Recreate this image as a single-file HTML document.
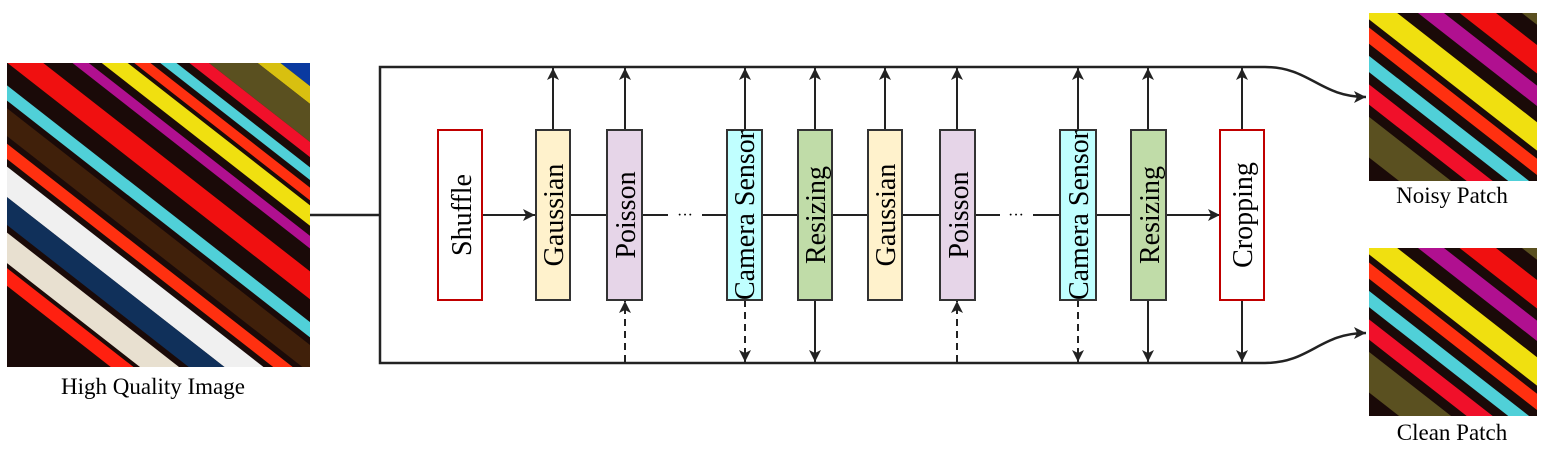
<!DOCTYPE html>
<html><head><meta charset="utf-8"><style>
html,body{margin:0;padding:0;background:#fff;width:1543px;height:450px;overflow:hidden;}
svg{display:block;}
text{font-family:"Liberation Serif",serif;fill:#000;}
</style></head><body>
<svg width="1543" height="450" viewBox="0 0 1543 450" xmlns="http://www.w3.org/2000/svg">
<defs>
<marker id="ah" markerWidth="12" markerHeight="12" refX="12" refY="6" orient="auto" markerUnits="userSpaceOnUse"><path d="M0,0 L12,6 L0,12 L3,6 z" fill="#222"/></marker>
<clipPath id="c1"><rect x="7" y="63" width="303" height="304"/></clipPath>
<clipPath id="c2"><rect x="1369" y="13" width="168" height="168"/></clipPath>
<clipPath id="c3"><rect x="1369" y="248" width="168" height="168"/></clipPath>
<g id="stripes">
<rect x="-400" y="-400" width="1000" height="1000" fill="#1a0a08"/>
<rect x="-400" y="-60" width="1000" height="14" fill="#f01010"/>
<rect x="-400" y="-40" width="1000" height="10" fill="#b01090"/>
<rect x="-400" y="-22" width="1000" height="14" fill="#f0e010"/>
<rect x="-400" y="-4" width="1000" height="8" fill="#ff3010"/>
<rect x="-400" y="10" width="1000" height="8" fill="#50d0d8"/>
<rect x="-400" y="24" width="1000" height="10" fill="#f0102a"/>
<rect x="-400" y="40" width="1000" height="20" fill="#5a5020"/>
<rect x="-400" y="-110" width="1000" height="40" fill="#5a5020"/>
<rect x="-400" y="-130" width="1000" height="20" fill="#f01010"/>
<rect x="-400" y="-160" width="1000" height="14" fill="#50d0d8"/>
<rect x="-400" y="-200" width="1000" height="16" fill="#ff3010"/>
<rect x="-400" y="-240" width="1000" height="24" fill="#f0f0f0"/>
<rect x="-400" y="-275" width="1000" height="14" fill="#ff2010"/>
</g>
</defs>

<g clip-path="url(#c1)">
<rect x="7" y="63" width="303" height="304" fill="#1a0a08"/>
<g transform="translate(250,90) rotate(38)">
<rect x="-600" y="-700" width="1400" height="660" fill="#0a3aa0"/>
<rect x="-600" y="-40" width="1400" height="14" fill="#d8c010"/>
<rect x="-600" y="-26" width="1400" height="30" fill="#5a5020"/>
<rect x="-600" y="4" width="1400" height="12" fill="#f0102a"/>
<rect x="-600" y="24" width="1400" height="10" fill="#50d0d8"/>
<rect x="-600" y="40" width="1400" height="10" fill="#ff3010"/>
<rect x="-600" y="54" width="1400" height="16" fill="#f0e010"/>
<rect x="-600" y="78" width="1400" height="10" fill="#b01090"/>
<rect x="-600" y="106" width="1400" height="22" fill="#f01010"/>
<rect x="-600" y="146" width="1400" height="12" fill="#50d0d8"/>
<rect x="-600" y="164" width="1400" height="22" fill="#40200a"/>
<rect x="-600" y="192" width="1400" height="12" fill="#ff3010"/>
<rect x="-600" y="210" width="1400" height="24" fill="#f0f0f0"/>
<rect x="-600" y="234" width="1400" height="22" fill="#10305a"/>
<rect x="-600" y="262" width="1400" height="24" fill="#e8e0d0"/>
<rect x="-600" y="290" width="1400" height="14" fill="#ff2010"/>
</g>
</g>
<text x="153" y="394" font-size="23" text-anchor="middle">High Quality Image</text>

<g clip-path="url(#c2)">
<g transform="translate(1445,95) rotate(38) scale(1.6)"><use href="#stripes"/></g>
</g>
<text x="1452" y="203" font-size="23" text-anchor="middle">Noisy Patch</text>
<g clip-path="url(#c3)">
<g transform="translate(1445,330) rotate(38) scale(1.6)"><use href="#stripes"/></g>
</g>
<text x="1452" y="440" font-size="23" text-anchor="middle">Clean Patch</text>

<g stroke="#222" stroke-width="2.5" fill="none">
<line x1="310" y1="215" x2="380" y2="215"/>
<path d="M1265,67 L380,67 L380,363 L1265,363"/>
<path d="M1265,67 C1310,67 1320,97 1366,97" marker-end="url(#ah)"/>
<path d="M1265,363 C1310,363 1320,333 1366,333" marker-end="url(#ah)"/>
</g>
<g stroke="#222" stroke-width="2" fill="none">
<line x1="482" y1="215" x2="535" y2="215" marker-end="url(#ah)"/>
<line x1="570" y1="215" x2="607" y2="215"/>
<line x1="642" y1="215" x2="668" y2="215"/>
<line x1="702" y1="215" x2="727" y2="215"/>
<line x1="762" y1="215" x2="798" y2="215"/>
<line x1="832" y1="215" x2="868" y2="215"/>
<line x1="902" y1="215" x2="940" y2="215"/>
<line x1="975" y1="215" x2="1000" y2="215"/>
<line x1="1033" y1="215" x2="1060" y2="215"/>
<line x1="1096" y1="215" x2="1131" y2="215"/>
<line x1="1166" y1="215" x2="1220" y2="215" marker-end="url(#ah)"/>
<line x1="553" y1="130" x2="553" y2="68" marker-end="url(#ah)"/>
<line x1="625" y1="130" x2="625" y2="68" marker-end="url(#ah)"/>
<line x1="745" y1="130" x2="745" y2="68" marker-end="url(#ah)"/>
<line x1="815" y1="130" x2="815" y2="68" marker-end="url(#ah)"/>
<line x1="885" y1="130" x2="885" y2="68" marker-end="url(#ah)"/>
<line x1="957" y1="130" x2="957" y2="68" marker-end="url(#ah)"/>
<line x1="1078" y1="130" x2="1078" y2="68" marker-end="url(#ah)"/>
<line x1="1148" y1="130" x2="1148" y2="68" marker-end="url(#ah)"/>
<line x1="1242" y1="130" x2="1242" y2="68" marker-end="url(#ah)"/>
<line x1="625" y1="362" x2="625" y2="301" stroke-dasharray="7,5" marker-end="url(#ah)"/>
<line x1="745" y1="300" x2="745" y2="362" stroke-dasharray="7,5" marker-end="url(#ah)"/>
<line x1="815" y1="300" x2="815" y2="362" marker-end="url(#ah)"/>
<line x1="957" y1="362" x2="957" y2="301" stroke-dasharray="7,5" marker-end="url(#ah)"/>
<line x1="1078" y1="300" x2="1078" y2="362" stroke-dasharray="7,5" marker-end="url(#ah)"/>
<line x1="1148" y1="300" x2="1148" y2="362" marker-end="url(#ah)"/>
<line x1="1242" y1="300" x2="1242" y2="362" marker-end="url(#ah)"/>
</g>
<text x="685" y="220" font-size="16" text-anchor="middle">···</text>
<text x="1016" y="220" font-size="16" text-anchor="middle">···</text>

<g stroke-width="2">
<rect x="438" y="130" width="44" height="170" fill="#fff" stroke="#c00000"/>
<rect x="536" y="130" width="34" height="170" fill="#fff2cc" stroke="#333"/>
<rect x="607" y="130" width="35" height="170" fill="#e6d5e8" stroke="#333"/>
<rect x="727" y="130" width="35" height="170" fill="#c0ffff" stroke="#333"/>
<rect x="798" y="130" width="34" height="170" fill="#c0dca8" stroke="#333"/>
<rect x="868" y="130" width="34" height="170" fill="#fff2cc" stroke="#333"/>
<rect x="940" y="130" width="35" height="170" fill="#e6d5e8" stroke="#333"/>
<rect x="1060" y="130" width="36" height="170" fill="#c0ffff" stroke="#333"/>
<rect x="1131" y="130" width="35" height="170" fill="#c0dca8" stroke="#333"/>
<rect x="1220" y="130" width="44" height="170" fill="#fff" stroke="#c00000"/>
</g>
<g font-size="28" text-anchor="middle">
<text transform="translate(471,215) rotate(-90)">Shuffle</text>
<text transform="translate(563,215) rotate(-90)">Gaussian</text>
<text transform="translate(635,215) rotate(-90)">Poisson</text>
<text transform="translate(754,215) rotate(-90)" textLength="170" lengthAdjust="spacingAndGlyphs">Camera Sensor</text>
<text transform="translate(825,215) rotate(-90)">Resizing</text>
<text transform="translate(895,215) rotate(-90)">Gaussian</text>
<text transform="translate(968,215) rotate(-90)">Poisson</text>
<text transform="translate(1088,215) rotate(-90)" textLength="170" lengthAdjust="spacingAndGlyphs">Camera Sensor</text>
<text transform="translate(1159,215) rotate(-90)">Resizing</text>
<text transform="translate(1252,215) rotate(-90)">Cropping</text>
</g>
</svg>
</body></html>
